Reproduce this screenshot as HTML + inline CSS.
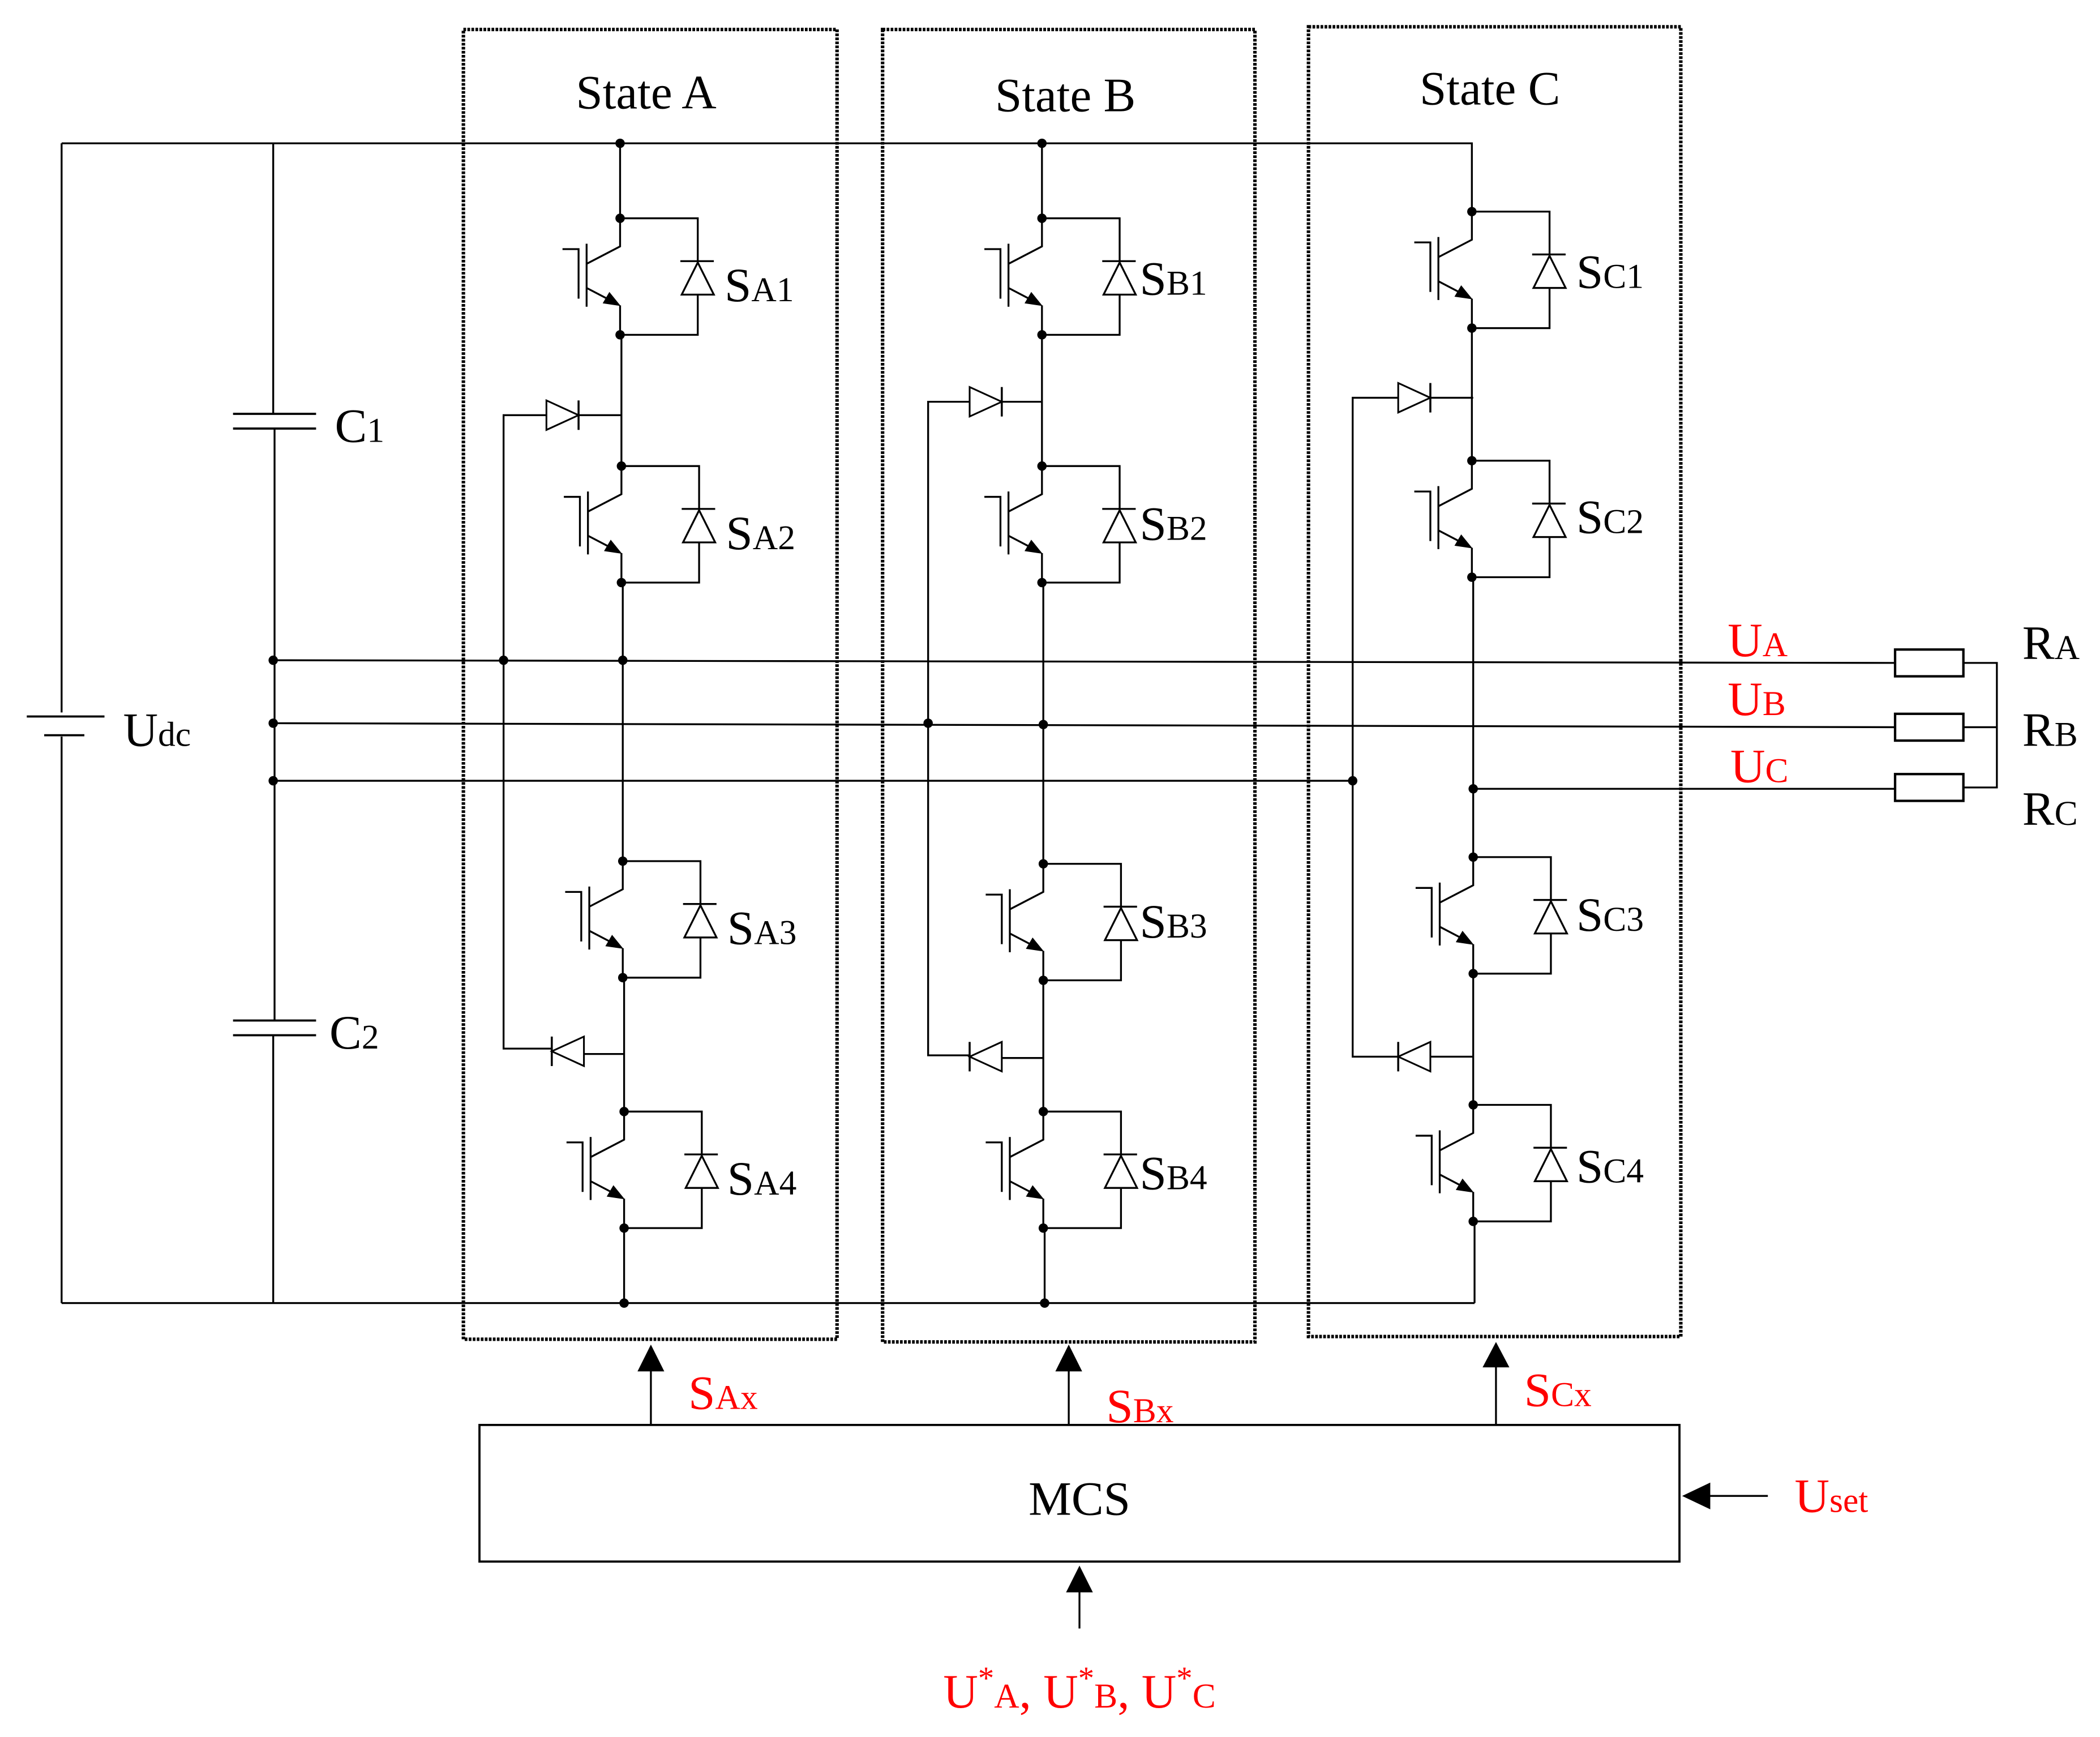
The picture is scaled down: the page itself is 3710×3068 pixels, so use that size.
<!DOCTYPE html>
<html><head><meta charset="utf-8"><style>
html,body{margin:0;padding:0;background:#fff}
svg{display:block}
text{font-family:"Liberation Serif",serif}
</style></head><body>
<svg width="3710" height="3068" viewBox="0 0 1568 1297" preserveAspectRatio="none" xmlns="http://www.w3.org/2000/svg">
<defs>
<g id="cell">
<path d="M0 0V21L-25 34M-25 52L-3 63.5M0 65V87M-25 19V66M-43 23H-31V60M0 0H58V32M58 57V87H0M45 32H70" fill="none" stroke="#000" stroke-width="1.4"/>
<polygon points="58,33 46,57 70,57" fill="#fff" stroke="#000" stroke-width="1.4"/>
<polygon points="0.5,65.5 -13,63.5 -8,55" fill="#000"/>
<circle cx="0" cy="0" r="3.5" fill="#000"/>
<circle cx="0" cy="87" r="3.5" fill="#000"/>
</g>
<g id="dr">
<polygon points="0,-11 0,11 24,0" fill="#fff" stroke="#000" stroke-width="1.3"/>
<path d="M24 -11V11" stroke="#000" stroke-width="1.5"/>
</g>
</defs>
<g fill="none" stroke="#000" stroke-width="1.4">
<rect x="346" y="22" width="279" height="978" stroke-dasharray="2 1" stroke-width="2.6"/>
<rect x="659" y="22" width="278" height="980" stroke-dasharray="2 1" stroke-width="2.6"/>
<rect x="977" y="20" width="278" height="978" stroke-dasharray="2 1" stroke-width="2.6"/>
<path d="M46 107H1099V158M46 973H1101M46 107V532M46 550V973"/>
<path d="M20 535H78M33 549H63" stroke-width="1.6"/>
<path d="M204 107V309M205 320V762M204 773V973"/>
<path d="M174 309H236M174 320H236M174 762H236M174 773H236" stroke-width="1.6"/>
<path d="M204 493L1415 495M204 540L1415 543M204 583H1010M1100 589H1415"/>
<rect x="1415" y="485" width="51" height="20" stroke-width="1.8"/>
<rect x="1415" y="533" width="51" height="20" stroke-width="1.8"/>
<rect x="1415" y="578" width="51" height="20" stroke-width="1.8"/>
<path d="M1466 495H1491V588H1466M1466 543H1491"/>
<path d="M463 107V163M464 250V348M465 435V643M466 731V830M466 917V973"/>
<path d="M464 310H432M408 310H376V783H412M436 787H466"/>
<path d="M778 107V163M778 250V348M779 435V645M779 732V830M780 917V973"/>
<path d="M778 300H748M724 300H693V788H724M748 790H779"/>
<path d="M1099 246V344M1100 431V640M1100 728V825M1101 912V973"/>
<path d="M1100 297H1068M1044 297H1010V789H1044M1068 789H1100"/>
<rect x="358" y="1064" width="896" height="102" stroke-width="1.6"/>
<path d="M486 1064V1020M798 1064V1020M1117 1064V1018M806 1216V1184M1320 1117H1270"/>
</g>
<g fill="#000">
<polygon points="486,1004 476,1024 496,1024"/>
<polygon points="798,1004 788,1024 808,1024"/>
<polygon points="1117,1002 1107,1021 1127,1021"/>
<polygon points="806,1169 796,1189 816,1189"/>
<polygon points="1256,1117 1277,1107 1277,1127"/>
<circle cx="463" cy="107" r="3.5"/><circle cx="778" cy="107" r="3.5"/>
<circle cx="466" cy="973" r="3.5"/><circle cx="780" cy="973" r="3.5"/>
<circle cx="204" cy="493" r="3.5"/><circle cx="204" cy="540" r="3.5"/><circle cx="204" cy="583" r="3.5"/>
<circle cx="376" cy="493" r="3.5"/><circle cx="693" cy="540" r="3.5"/><circle cx="1010" cy="583" r="3.5"/>
<circle cx="465" cy="493" r="3.5"/><circle cx="779" cy="541" r="3.5"/><circle cx="1100" cy="589" r="3.5"/>
</g>
<use href="#dr" x="408" y="310"/>
<use href="#dr" transform="translate(436,785) scale(-1,1)"/>
<use href="#dr" x="724" y="300"/>
<use href="#dr" transform="translate(748,789) scale(-1,1)"/>
<use href="#dr" x="1044" y="297"/>
<use href="#dr" transform="translate(1068,789) scale(-1,1)"/>
<use href="#cell" x="463" y="163"/><use href="#cell" x="464" y="348"/>
<use href="#cell" x="465" y="643"/><use href="#cell" x="466" y="830"/>
<use href="#cell" x="778" y="163"/><use href="#cell" x="778" y="348"/>
<use href="#cell" x="779" y="645"/><use href="#cell" x="779" y="830"/>
<use href="#cell" x="1099" y="158"/><use href="#cell" x="1099" y="344"/>
<use href="#cell" x="1100" y="640"/><use href="#cell" x="1100" y="825"/>
<g font-size="36" fill="#000">
<text x="430" y="81">State A</text>
<text x="743" y="83">State B</text>
<text x="1060" y="78">State C</text>
<text x="92" y="557">U<tspan font-size="26">dc</tspan></text>
<text x="250" y="330">C<tspan font-size="26">1</tspan></text>
<text x="246" y="783">C<tspan font-size="26">2</tspan></text>
<text x="1510" y="492">R<tspan font-size="26">A</tspan></text>
<text x="1510" y="557">R<tspan font-size="26">B</tspan></text>
<text x="1510" y="616">R<tspan font-size="26">C</tspan></text>
<text x="541" y="225">S<tspan font-size="26">A1</tspan></text>
<text x="542" y="410">S<tspan font-size="26">A2</tspan></text>
<text x="543" y="705">S<tspan font-size="26">A3</tspan></text>
<text x="543" y="892">S<tspan font-size="26">A4</tspan></text>
<text x="851" y="220">S<tspan font-size="26">B1</tspan></text>
<text x="851" y="403">S<tspan font-size="26">B2</tspan></text>
<text x="851" y="700">S<tspan font-size="26">B3</tspan></text>
<text x="851" y="888">S<tspan font-size="26">B4</tspan></text>
<text x="1177" y="215">S<tspan font-size="26">C1</tspan></text>
<text x="1177" y="398">S<tspan font-size="26">C2</tspan></text>
<text x="1177" y="695">S<tspan font-size="26">C3</tspan></text>
<text x="1177" y="883">S<tspan font-size="26">C4</tspan></text>
<text x="806" y="1131" text-anchor="middle">MCS</text>
</g>
<g font-size="36" fill="#ff0000">
<text x="1290" y="490">U<tspan font-size="26">A</tspan></text>
<text x="1290" y="534">U<tspan font-size="26">B</tspan></text>
<text x="1292" y="584">U<tspan font-size="26">C</tspan></text>
<text x="514" y="1052">S<tspan font-size="26">Ax</tspan></text>
<text x="826" y="1062">S<tspan font-size="26">Bx</tspan></text>
<text x="1138" y="1050">S<tspan font-size="26">Cx</tspan></text>
<text x="1340" y="1129">U<tspan font-size="26">set</tspan></text>
<text x="806" y="1275" text-anchor="middle">U<tspan font-size="24" dy="-14">*</tspan><tspan font-size="26" dy="14">A</tspan>, U<tspan font-size="24" dy="-14">*</tspan><tspan font-size="26" dy="14">B</tspan>, U<tspan font-size="24" dy="-14">*</tspan><tspan font-size="26" dy="14">C</tspan></text>
</g>
</svg>
</body></html>
